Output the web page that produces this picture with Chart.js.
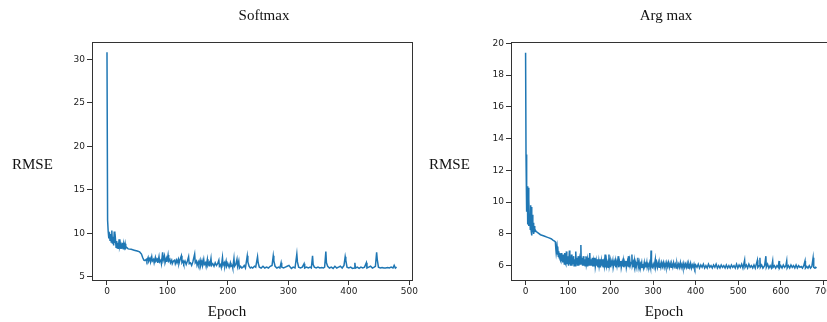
<!DOCTYPE html>
<html>
<head>
<meta charset="utf-8">
<script src="https://cdn.jsdelivr.net/npm/chart.js@4.4.1/dist/chart.umd.min.js"></script>
<style>
  body { margin:0; width:827px; height:322px; overflow:hidden; position:relative; background:#fff; }
  canvas { position:absolute; top:0; }
  .lbl { position:absolute; font-family:"Liberation Serif","Times New Roman",serif; font-size:15px; color:#111; white-space:nowrap; line-height:1; }
  .c { transform:translateX(-50%); }
</style>
</head>
<body>
<canvas id="softmaxChart" width="420" height="322" style="left:0"></canvas>
<canvas id="argmaxChart" width="430" height="322" style="left:410px"></canvas>

<div class="lbl c" style="left:264px;top:8px">Softmax</div>
<div class="lbl" style="left:12px;top:157px">RMSE</div>
<div class="lbl c" style="left:227px;top:304px">Epoch</div>

<div class="lbl c" style="left:666px;top:8px">Arg max</div>
<div class="lbl" style="left:429px;top:157px">RMSE</div>
<div class="lbl c" style="left:664px;top:304px">Epoch</div>

<script>
// Softmax run: epoch / RMSE
const softmaxEpochs = [
  0,1,2,3,4,5,6,7,8,9,10,11,12,13,14,15,16,17,18,19,20,21,22,23,24,25,26,27,28,29,30,31,32,35,40,45,50,54,57,59,
  61,63,65,66,68,69,71,72,74,75,77,78,80,81,83,84,86,87,89,90,92,93,95,96,98,99,101,102,104,105,107,108,110,112,113,115,116,118,119,121,
  123,124,126,127,129,131,133,135,136,138,140,142,145,146,148,149,151,152,154,155,157,158,160,161,163,164,166,167,169,170,172,173,175,177,179,181,183,185,186,188,
  189,191,192,194,195,197,198,200,202,204,205,207,208,210,211,213,215,216,218,219,221,223,225,227,229,232,233,235,237,239,241,244,246,249,250,252,255,258,261,264,
  267,270,273,275,276,278,281,284,286,288,289,292,295,298,301,303,305,308,311,314,315,317,320,323,326,327,330,333,336,338,340,341,343,346,349,352,355,358,360,362,
  363,365,368,371,374,377,380,383,386,389,392,394,395,397,400,403,406,409,410,411,414,417,420,423,426,429,430,433,436,439,442,444,446,447,449,452,455,458,461,464,
  467,470,473,475,477,479
];
const softmaxRmse = [
  30.8,11.5,10.2,9.4,10.1,9.2,9.9,9.0,10.3,8.8,9.6,8.6,10.2,8.9,9.3,8.4,9.1,8.3,8.9,8.2,9.3,8.5,8.8,8.2,8.6,8.3,8.9,8.2,8.7,8.4,8.8,8.3,8.4,8.2,8.15,8.05,7.95,7.85,7.6,7.2,
  6.9,6.85,7.0,6.8,7.2,6.8,7.1,6.7,7.3,6.8,7.0,6.6,7.2,6.8,7.0,6.6,7.3,6.7,6.9,6.5,7.8,6.9,7.4,6.6,7.1,6.7,7.5,6.8,7.0,6.6,6.9,6.5,6.8,6.9,6.5,6.9,6.6,7.0,6.5,7.0,
  7.4,6.6,6.8,6.5,6.8,6.4,6.8,7.3,6.5,6.6,6.3,6.7,7.6,6.6,6.8,6.3,6.7,6.4,6.9,6.3,6.8,6.3,7.0,6.4,6.6,6.2,7.0,6.3,6.6,6.2,7.1,6.3,6.5,6.2,6.6,6.3,6.5,6.9,6.2,6.4,
  6.1,7.2,6.3,6.6,6.2,6.8,6.2,6.5,6.1,6.6,6.2,6.3,6.0,7.1,6.2,6.4,7.0,6.2,6.8,6.0,6.2,6.0,6.1,6.3,6.0,7.4,6.7,6.2,6.0,6.1,6.0,6.2,6.1,7.3,6.6,6.1,6.0,6.2,6.0,6.1,
  6.0,6.2,6.3,7.4,6.8,6.2,6.0,6.1,6.0,6.6,6.1,6.0,6.1,6.2,6.3,6.1,5.95,6.1,6.0,7.6,6.7,6.1,6.0,6.1,6.5,6.0,6.1,6.0,6.1,6.0,7.4,6.4,6.1,6.0,6.1,6.0,6.05,6.0,6.1,7.9,
  6.6,6.2,6.0,6.1,5.95,6.2,6.0,6.1,6.2,6.0,6.3,7.3,6.9,6.1,6.0,6.1,5.95,6.0,6.6,6.0,6.1,5.95,6.1,6.0,6.1,6.6,6.0,6.1,6.2,6.0,6.1,6.2,7.8,7.0,6.1,6.0,6.05,6.0,6.0,6.05,
  6.0,6.1,6.0,6.3,6.0,6.1
];

// Arg max run: epoch / RMSE
const argmaxEpochs = [
  0,1,2,3,4,5,6,7,8,9,10,11,12,13,14,15,16,17,18,19,20,21,22,25,30,35,40,45,50,55,60,65,68,70,71,72,74,75,76,77,
  78,79,80,81,82,83,84,85,86,87,88,89,90,91,92,93,94,95,96,97,98,99,100,101,103,104,105,106,108,109,110,111,113,114,116,117,118,119,121,122,
  124,125,127,128,130,131,133,134,136,137,139,140,142,143,145,146,148,149,151,152,154,155,157,158,160,161,163,164,166,167,169,170,172,173,175,176,178,179,181,182,
  184,185,187,188,190,191,193,194,196,197,199,200,202,203,205,206,208,209,211,212,214,215,218,219,221,222,224,225,227,228,230,231,233,234,236,237,239,240,242,243,
  245,246,248,250,251,253,254,256,257,259,260,262,264,265,267,268,270,271,273,274,276,277,279,280,282,283,285,286,288,290,292,294,295,296,298,300,302,305,306,308,
  310,312,314,316,318,320,322,324,326,328,330,332,334,336,338,340,342,344,346,348,350,352,354,356,358,360,362,364,366,368,370,372,374,376,378,380,382,384,386,388,
  390,392,394,396,398,400,403,406,409,412,415,418,421,424,427,430,433,436,439,442,445,448,451,454,457,460,463,466,469,472,475,478,481,484,487,490,493,496,499,502,
  505,508,511,515,516,519,522,525,528,531,534,537,540,545,546,549,551,552,555,558,562,565,566,569,572,575,578,581,582,585,588,591,594,596,597,600,603,606,609,612,
  614,615,618,621,624,627,630,633,636,639,642,645,648,651,654,657,658,661,664,667,670,673,676,677,678,680,682,684
];
const argmaxRmse = [
  19.4,13.0,11.1,9.4,11.0,8.6,10.9,8.5,10.2,8.7,9.0,8.3,9.8,8.2,9.7,7.9,9.2,8.1,8.7,8.0,8.5,8.1,8.3,8.15,8.05,7.95,7.9,7.85,7.8,7.75,7.7,7.6,7.55,7.5,7.1,6.8,7.2,6.7,7.2,6.6,
  6.9,6.5,6.8,6.4,6.7,6.3,6.8,6.3,6.6,6.2,6.7,6.2,6.6,6.1,6.8,6.2,6.5,6.1,6.9,6.1,6.5,6.1,6.6,6.0,6.95,6.1,6.4,6.0,6.7,6.0,6.5,6.1,6.6,6.0,6.4,6.0,6.9,6.1,6.5,6.0,
  6.6,6.0,6.4,6.1,7.3,6.1,6.5,6.0,6.6,6.0,6.4,6.0,6.6,6.1,6.4,5.95,6.5,6.0,6.8,6.0,6.4,6.0,6.5,5.95,6.3,6.0,6.5,5.95,6.3,6.0,6.4,5.9,6.3,6.0,6.4,5.9,6.3,6.0,6.4,5.9,
  6.2,6.0,6.7,5.9,6.3,6.0,6.2,5.9,6.7,6.0,6.3,5.9,6.2,6.0,6.3,5.9,6.2,6.0,6.3,5.9,6.2,6.0,6.6,5.9,6.2,6.0,6.3,5.9,6.2,5.95,6.3,5.9,6.2,6.0,6.3,5.9,6.2,5.95,6.6,5.9,
  6.3,6.0,6.2,6.7,6.0,6.2,5.9,6.3,5.95,6.2,5.9,6.2,6.5,5.95,6.2,5.9,6.1,5.95,6.2,5.9,6.1,5.9,6.2,5.95,6.1,5.9,6.2,5.9,6.1,5.95,6.2,5.9,6.95,6.0,5.9,6.1,5.9,6.4,5.95,6.2,
  5.9,6.2,5.9,6.15,5.9,6.2,5.95,6.2,5.9,6.15,5.9,6.2,5.95,6.2,5.9,6.15,5.9,6.1,5.9,6.2,5.95,6.1,5.85,6.15,5.9,6.1,5.9,6.2,5.9,6.1,5.85,6.15,5.9,6.1,5.9,6.15,5.85,6.1,5.9,6.15,
  5.85,6.05,5.9,6.1,5.85,6.05,5.9,6.1,5.85,6.05,5.9,6.1,5.85,6.0,5.85,6.1,5.9,6.0,5.85,6.05,5.9,6.1,5.85,6.0,5.85,6.05,5.9,6.0,5.85,6.05,5.85,6.0,5.85,6.05,5.9,6.0,5.85,6.1,5.85,6.05,
  5.9,6.1,5.85,6.35,5.9,6.05,5.85,6.1,5.9,6.0,5.85,6.05,5.85,6.35,5.9,6.0,6.5,5.9,6.05,5.85,6.0,6.6,5.9,6.1,5.85,6.0,5.85,6.3,5.9,6.0,5.85,6.0,5.9,6.3,5.85,6.0,5.85,6.05,5.9,6.0,
  6.3,5.85,6.0,5.85,6.05,5.9,6.0,5.85,6.05,5.85,6.0,5.9,5.95,5.85,6.0,6.3,5.85,5.95,5.85,6.0,5.85,5.95,6.5,6.45,5.9,5.85,5.9,5.85
];

const softmaxXTicks = [0, 100, 200, 300, 400, 500];
const softmaxYTicks = [5, 10, 15, 20, 25, 30];
const argmaxXTicks = [0, 100, 200, 300, 400, 500, 600, 700];
const argmaxYTicks = [6, 8, 10, 12, 14, 16, 18, 20];

// matplotlib-style frame around the axes
const framePlugin = {
  id: 'frame',
  afterDraw(chart) {
    const { ctx, chartArea: a } = chart;
    ctx.save();
    ctx.strokeStyle = '#333';
    ctx.lineWidth = 1;
    ctx.strokeRect(Math.round(a.left) + 0.5, Math.round(a.top) + 0.5,
      Math.round(a.right - a.left), Math.round(a.bottom - a.top));
    ctx.restore();
  }
};

function tickFont() {
  return { family: 'DejaVu Sans', size: 9 };
}

function makeChart(id, epochs, rmse, xr, yr, xTicks, yTicks, yWidth, padRight) {
  const points = epochs.map((e, i) => ({ x: e, y: rmse[i] }));
  return new Chart(document.getElementById(id), {
    type: 'line',
    data: {
      datasets: [{
        data: points,
        borderColor: '#1f77b4',
        borderWidth: 1.5,
        pointRadius: 0,
        tension: 0,
        fill: false,
      }]
    },
    options: {
      responsive: false,
      animation: false,
      events: [],
      layout: { padding: { left: 0, top: 42, right: padRight, bottom: 0 } },
      plugins: { legend: { display: false }, tooltip: { enabled: false } },
      scales: {
        x: {
          type: 'linear',
          min: xr[0], max: xr[1],
          afterBuildTicks: s => { s.ticks = xTicks.map(v => ({ value: v })); },
          afterFit: s => { s.height = 42; },
          border: { display: false },
          grid: { display: true, drawOnChartArea: false, drawTicks: true, tickLength: 5, color: '#333' },
          ticks: { autoSkip: false, maxRotation: 0, padding: 1, color: '#222', font: tickFont(), callback: v => v }
        },
        y: {
          type: 'linear',
          min: yr[0], max: yr[1],
          afterBuildTicks: s => { s.ticks = yTicks.map(v => ({ value: v })); },
          afterFit: s => { s.width = yWidth; },
          border: { display: false },
          grid: { display: true, drawOnChartArea: false, drawTicks: true, tickLength: 5, color: '#333' },
          ticks: { autoSkip: false, padding: 2, color: '#222', font: tickFont(), callback: v => v }
        }
      }
    },
    plugins: [framePlugin]
  });
}

makeChart('softmaxChart', softmaxEpochs, softmaxRmse, [-24.8, 504.5], [4.62, 31.99],
  softmaxXTicks, softmaxYTicks, 92, 8);
makeChart('argmaxChart', argmaxEpochs, argmaxRmse, [-34.3, 718.1], [5.1, 20.08],
  argmaxXTicks, argmaxYTicks, 101, 9);
</script>
</body>
</html>
